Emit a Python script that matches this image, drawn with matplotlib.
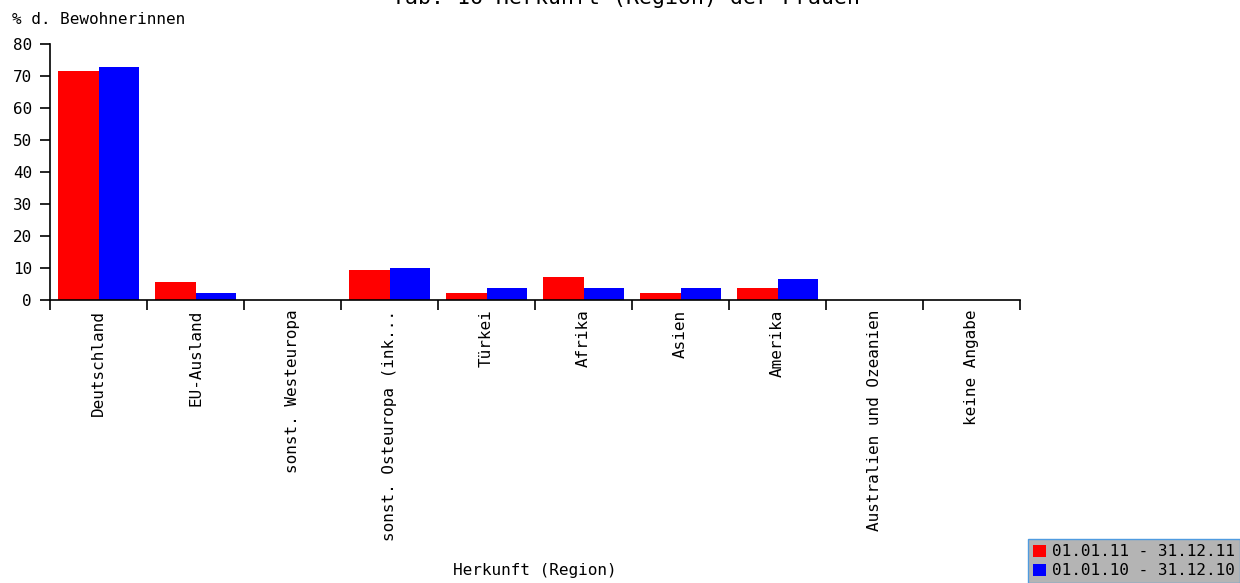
import matplotlib
matplotlib.use('Agg')
import matplotlib.pyplot as plt
import numpy as np

# data
regions = ['Deutschland', 'EU-Ausland', 'sonst. Westeuropa', 'sonst. Osteuropa (ink...',
           'Türkei', 'Afrika', 'Asien', 'Amerika', 'Australien und Ozeanien', 'keine Angabe']
werte_2011 = [71.5, 5.7, 0, 9.3, 2.1, 7.3, 2.1, 3.6, 0, 0]
werte_2010 = [72.9, 2.1, 0, 9.9, 3.6, 3.6, 3.6, 6.7, 0, 0]
labels = ['01.01.11 - 31.12.11', '01.01.10 - 31.12.10']
yticks = [0, 10, 20, 30, 40, 50, 60, 70, 80]

plt.rcParams['font.family'] = 'DejaVu Sans Mono'
fs = 11.5

W, H = 1240, 583
fig = plt.figure(figsize=(W / 100, H / 100), dpi=100)
ax = fig.add_axes([50 / W, 1 - 300 / H, 970 / W, 256 / H])

x = np.arange(len(regions))
bw = 0.42
ax.bar(x - bw / 2, werte_2011, bw, color='#ff0000', label=labels[0])
ax.bar(x + bw / 2, werte_2010, bw, color='#0000ff', label=labels[1])

ax.set_xlim(-0.5, len(regions) - 0.5)
ax.set_ylim(0, 80)
ax.set_yticks(yticks)
ax.set_yticklabels([str(v) for v in yticks], fontsize=fs)

# ticks on category borders, labels at centers
ax.set_xticks(np.arange(len(regions) + 1) - 0.5)
ax.set_xticklabels([])
ax.set_xticks(x, minor=True)
ax.set_xticklabels(regions, minor=True, rotation=90, fontsize=fs, va='top')
ax.tick_params(axis='x', which='minor', length=0, pad=7)
ax.tick_params(axis='x', which='major', length=7, width=1.2, direction='out')
ax.tick_params(axis='y', length=7, width=1.2, pad=6)

for s in ['top', 'right']:
    ax.spines[s].set_visible(False)
ax.spines['left'].set_linewidth(1.2)
ax.spines['bottom'].set_linewidth(1.2)

fig.text(12 / W, 1 - 20 / H, '% d. Bewohnerinnen', fontsize=fs, va='center', ha='left')
fig.text(535 / W, 1 - 570 / H, 'Herkunft (Region)', fontsize=fs, va='center', ha='center')
# title is clipped by the top edge in the reference as well
fig.text(626 / W, 1 - 4 / H, 'Tab. 16 Herkunft (Region) der Frauen', fontsize=15.5,
         va='baseline', ha='center')

leg = fig.legend(loc='lower right', bbox_to_anchor=(1.0, 0.0), fontsize=fs,
                 frameon=True, fancybox=False, handlelength=0.8, handleheight=0.8,
                 handletextpad=0.4, borderpad=0.3, labelspacing=0.25, borderaxespad=0.0)
leg.get_frame().set_facecolor('#b4b4b4')
leg.get_frame().set_edgecolor('#4f9be0')
leg.get_frame().set_alpha(1)

fig.savefig('out.png', dpi=100)
